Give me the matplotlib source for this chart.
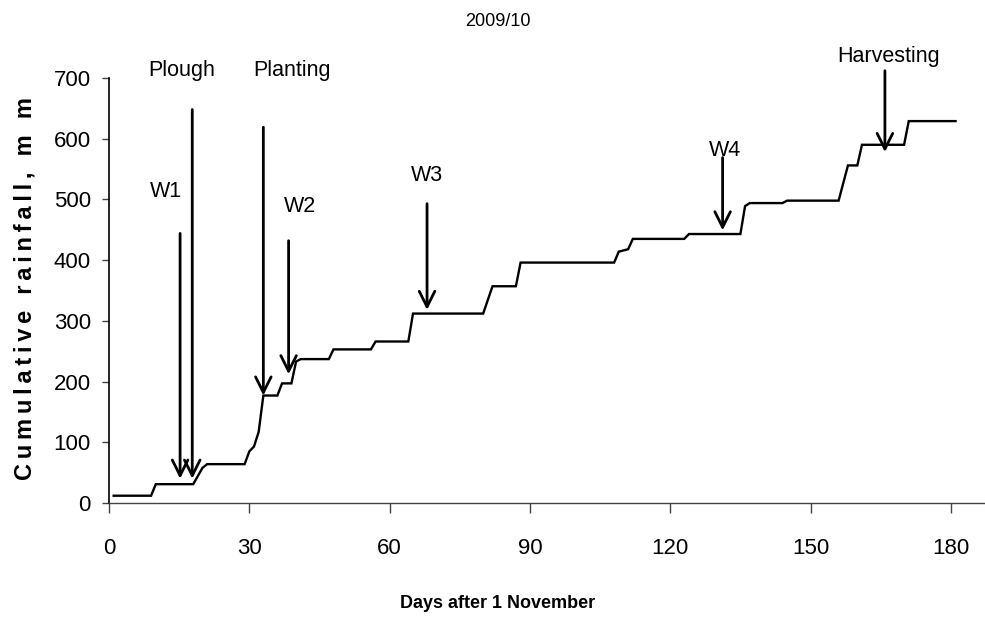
import matplotlib
matplotlib.use("Agg")
import matplotlib.pyplot as plt

# ---- data ----
days = [1, 9, 10, 18, 20, 21, 29, 30, 31, 32, 33, 36, 37, 39, 40, 41, 47, 48,
        56, 57, 64, 65, 80, 82, 87, 88, 108, 109, 111, 112, 123, 124, 135, 136,
        137, 144, 145, 156, 158, 160, 161, 170, 171, 181]
rain = [12, 12, 31, 31, 58, 64, 64, 85, 93, 117, 177, 177, 197, 197, 233, 237,
        237, 253, 253, 266, 266, 312, 312, 357, 357, 396, 396, 414, 418, 435,
        435, 443, 443, 489, 494, 494, 498, 498, 556, 556, 590, 590, 629, 629]

events = ['W1', 'Plough', 'Planting', 'W2', 'W3', 'W4', 'Harvesting']
event_day = [15.2, 17.8, 33, 38.4, 68, 131.2, 165.9]
arrow_top = [444, 648, 619, 432, 493, 569, 712]
arrow_tip = [40, 40, 177, 212, 318, 449, 578]
label_x = [12.2, 15.5, 39.1, 40.8, 68.0, 131.7, 166.6]
label_y = [513, 712, 712, 488, 540, 581, 735]

xticks = [0, 30, 60, 90, 120, 150, 180]
yticks = [0, 100, 200, 300, 400, 500, 600, 700]

plt.rcParams['font.family'] = ['Liberation Sans', 'DejaVu Sans']

fig = plt.figure(figsize=(9.85, 6.24), dpi=100)
ax = fig.add_axes([109/985, 1-503/624, 876/985, 425/624])

ax.plot(days, rain, color='black', lw=1.7, solid_joinstyle='miter')

for d, top, tip in zip(event_day, arrow_top, arrow_tip):
    ax.annotate('', xy=(d, tip), xytext=(d, top),
                arrowprops=dict(arrowstyle='->', lw=2.0, color='black',
                                mutation_scale=28, shrinkA=0, shrinkB=0),
                annotation_clip=False)
for t, x, y in zip(events, label_x, label_y):
    ax.text(x, y, t, ha='center', va='center', fontsize=15.5, clip_on=False)

ax.set_xlim(0, 187.3)
ax.set_ylim(0, 700)
ax.set_xticks(xticks)
ax.set_yticks(yticks)
ax.tick_params(axis='x', direction='out', length=7.2, width=1, color='#444444',
               labelsize=16, pad=18)
ax.tick_params(axis='y', direction='out', length=5, width=1, color='#444444',
               labelsize=16, pad=8)
for s in ['top', 'right']:
    ax.spines[s].set_visible(False)
ax.spines['left'].set_color('black')
ax.spines['left'].set_linewidth(1.2)
ax.spines['bottom'].set_color('#444444')
ax.spines['bottom'].set_linewidth(1.0)

ylab = '\u2009'.join('Cumulative rainfall, m m')
fig.text(0.505, 1-21/624, '2009/10', ha='center', va='center', fontsize=13)
fig.text(0.505, 1-603/624, 'Days after 1 November', ha='center', va='center',
         fontsize=13, fontweight='bold')
fig.text(25/985, 1-288/624, ylab, ha='center', va='center',
         rotation=90, fontsize=17, fontweight='bold')

fig.savefig('out.png', dpi=100)
